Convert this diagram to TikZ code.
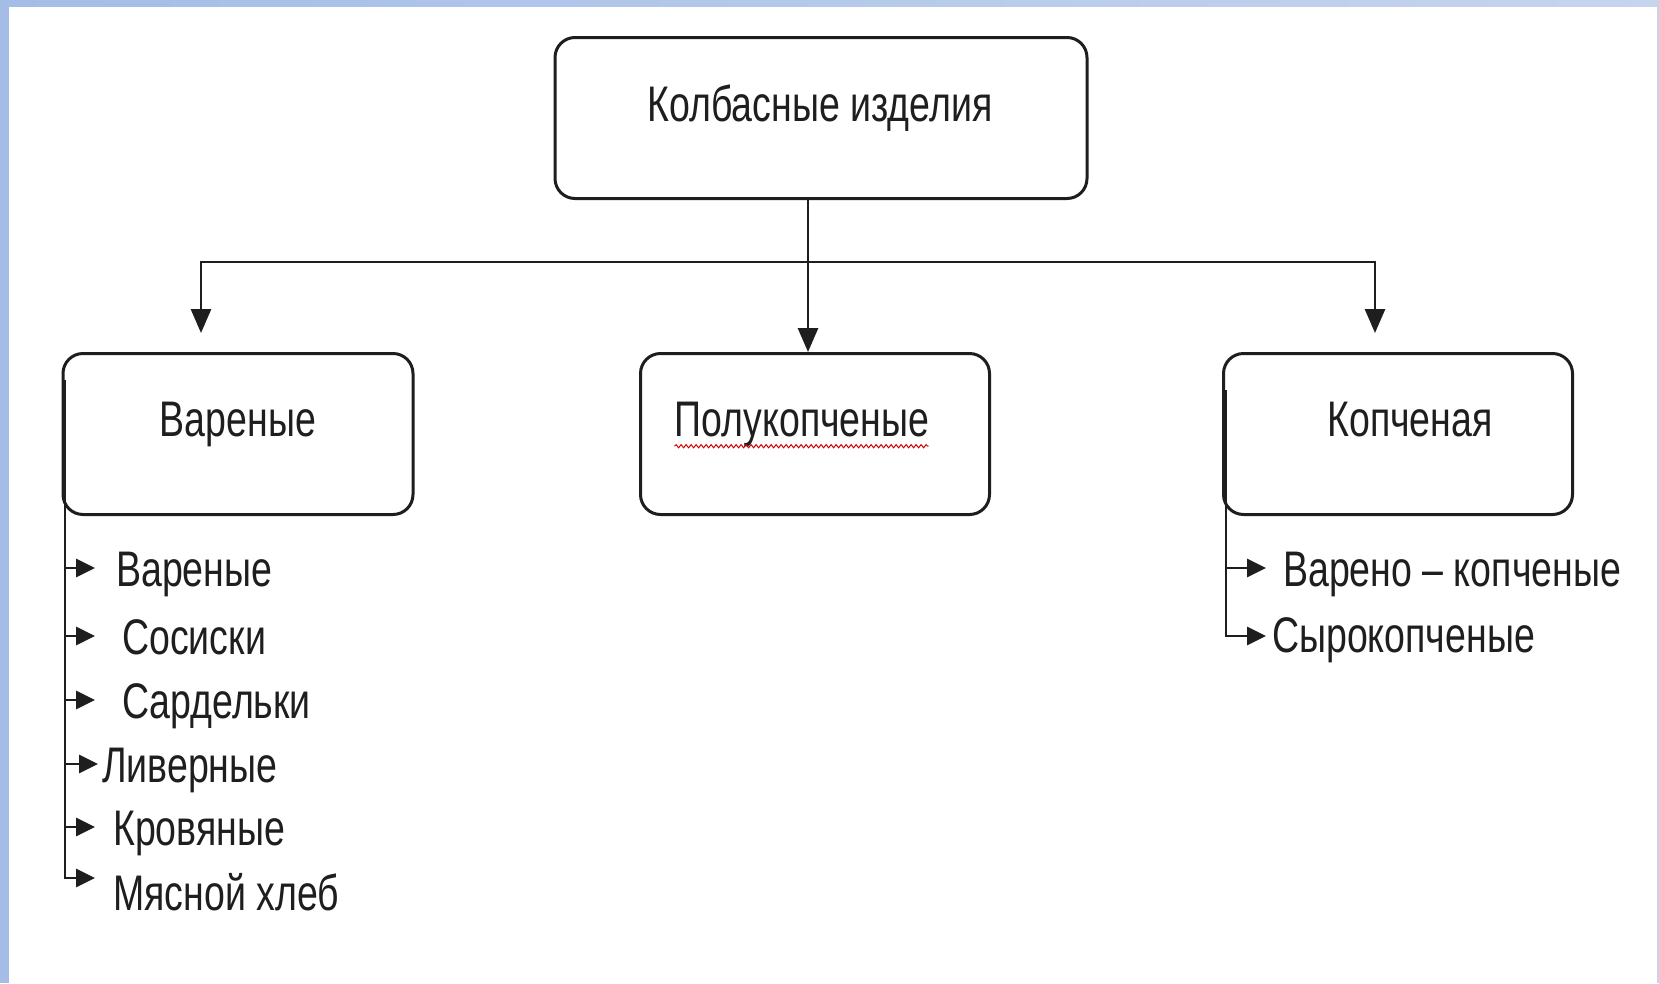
\documentclass[tikz,border=0pt]{standalone}
\usepackage{fontspec}
\setmainfont[FakeStretch=0.75]{Liberation Sans}
\usetikzlibrary{arrows.meta,decorations.pathmorphing}
\definecolor{bandA}{HTML}{A4BDE6}
\definecolor{bandB}{HTML}{C6D5EE}
\definecolor{ink}{HTML}{1E1E1E}
\tikzset{
  x=1pt, y=-1pt,
  box/.style={draw=ink, line width=3pt, rounded corners=20pt, minimum height=161pt, inner sep=0pt},
  boxtext/.style={inner sep=0pt, text height=36pt, text depth=0pt, font=\fontsize{50}{60}\selectfont, text=ink},
  itemtext/.style={anchor=west, inner sep=0pt, text height=36pt, text depth=0pt, font=\fontsize{50}{60}\selectfont, text=ink},
  conn/.style={draw=ink, line width=2.8pt},
  arr/.style={conn, -{Triangle[length=24pt,width=20pt]}},
  sarr/.style={conn, -{Triangle[length=19pt,width=18pt]}},
}
\begin{document}
\begin{tikzpicture}
\useasboundingbox (0,0) rectangle (1659,983);
\fill[white] (0,0) rectangle (1659,983);
\shade[left color=bandA, right color=bandB] (0,0) rectangle (1659,6);
\fill[bandA] (0,0) rectangle (9,983);
\fill[bandB] (1657,0) rectangle (1659,983);

% boxes
\node[box, minimum width=532pt] (top) at (821,118) {};
\node[box, minimum width=350pt] (lbox) at (238,434) {};
\node[box, minimum width=349pt] (mbox) at (815,434) {};
\node[box, minimum width=349pt] (rbox) at (1398,434) {};

\node[boxtext] (toptxt) at (820,103) {Колбасные изделия};
\node[boxtext] (ltxt) at (238,418) {Вареные};
\node[boxtext] (mtxt) at (802,418) {Полукопченые};
\node[boxtext] (rtxt) at (1410,418) {Копченая};
\draw[red!80!black, line width=1pt, decorate, decoration={snake, amplitude=1.6pt, segment length=5pt}]
  (mtxt.south west) ++(0,10) -- ++(254,0);

% main connectors
\coordinate (jx) at (808,262);
\coordinate (hL) at (201,262);
\coordinate (hR) at (1375,262);
\coordinate (tipL) at (201,333);
\coordinate (tipR) at (1375,333);
\draw[conn] (top.south -| jx) -- (jx);
\draw[arr] (jx) -- (mbox.north -| jx);
\draw[arr] (jx) -- (hL) -- (tipL);
\draw[arr] (jx) -- (hR) -- (tipR);

% left list
\coordinate (lstart) at (65,380);
\coordinate (a1) at (95,568);
\coordinate (a2) at (95,636);
\coordinate (a3) at (95,700);
\coordinate (a4) at (98,764);
\coordinate (a5) at (95,827);
\coordinate (a6) at (95,878);
\node[itemtext] (i1) at (116,568) {Вареные};
\node[itemtext] (i2) at (122,636) {Сосиски};
\node[itemtext] (i3) at (122,700) {Сардельки};
\node[itemtext] (i4) at (102,764) {Ливерные};
\node[itemtext] (i5) at (113,827) {Кровяные};
\node[itemtext] (i6) at (113,892) {Мясной хлеб};
\draw[conn] (lstart) -- (lstart |- a6);
\foreach \a in {a1,a2,a3,a4,a5}{\draw[sarr] (lstart |- \a) -- (\a);}
\draw[sarr] (lstart) |- (a6);

% right list
\coordinate (rstart) at (1226,390);
\coordinate (b1) at (1266,568);
\coordinate (b2) at (1266,636);
\node[itemtext] (j1) at (1283,568) {Варено – копченые};
\node[itemtext] (j2) at (1272,634) {Сырокопченые};
\draw[sarr] (rstart |- b1) -- (b1);
\draw[sarr] (rstart) |- (b2);
\end{tikzpicture}
\end{document}
